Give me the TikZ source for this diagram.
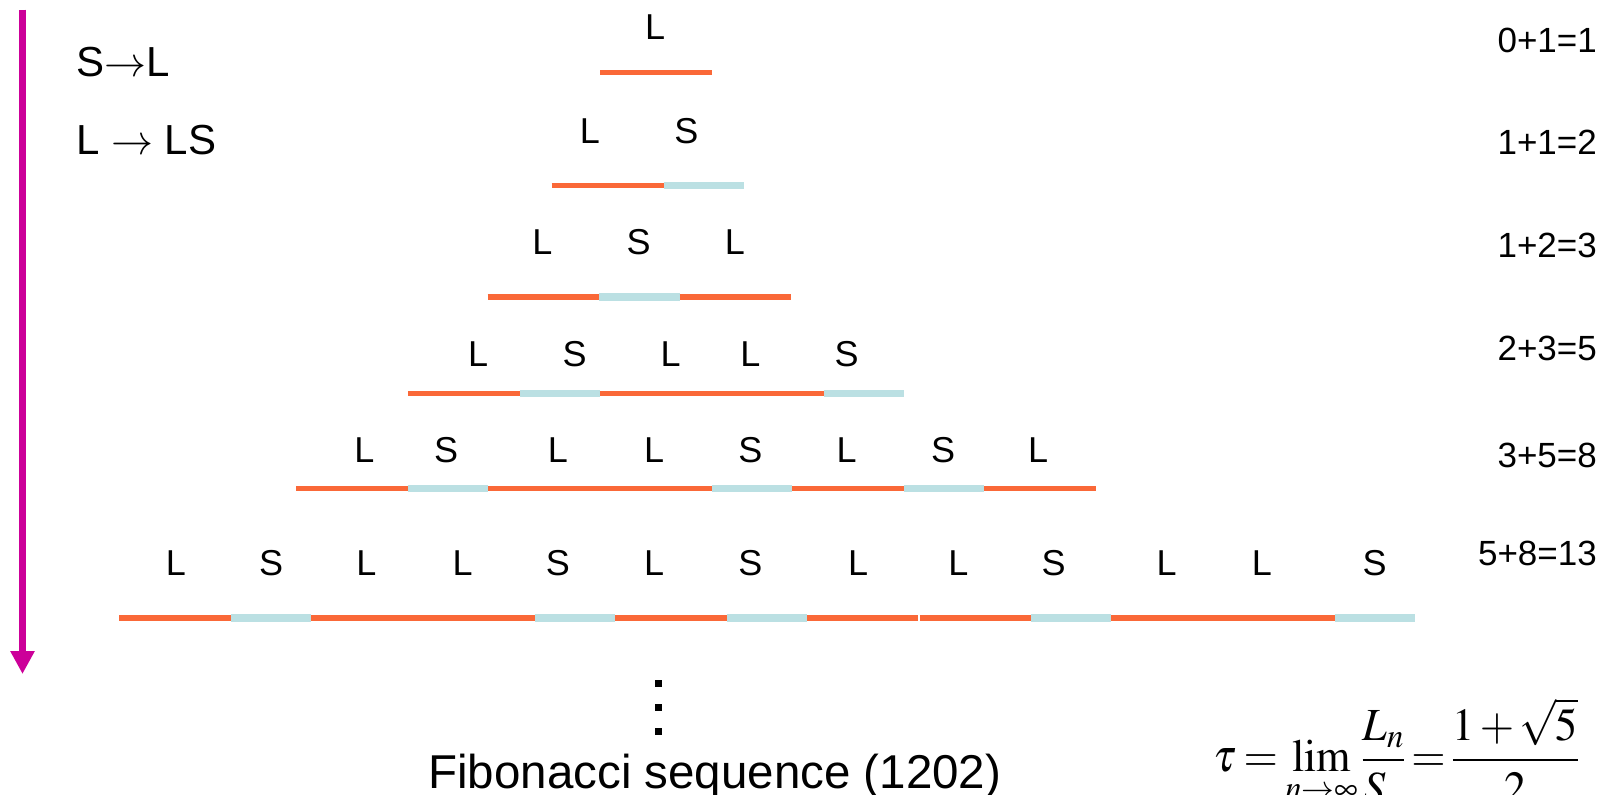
\documentclass[tikz,border=0pt]{standalone}
\usepackage{graphicx}
\usepackage{mathptmx}
\usepackage[no-math]{fontspec}
\setmainfont{Liberation Sans}
\usetikzlibrary{arrows.meta}
\definecolor{segL}{RGB}{250,104,56}
\definecolor{segS}{RGB}{187,224,227}
\definecolor{mag}{RGB}{204,0,153}
\newcommand\segrow[3]{%
  \foreach \t [remember=\nx as \cx (initially #1)] in {#3} {
    \pgfmathsetmacro\nx{\cx+\t*111.8+(1-\t)*80.3}
    \ifnum\t=1 \draw[Lseg] (\cx,#2) -- (\nx,#2); \else \draw[Sseg] (\cx,#2) -- (\nx,#2); \fi
  }}
\begin{document}
\begin{tikzpicture}[x=1pt,y=-1pt,
  Lseg/.style={draw=segL,line width=5.5pt},
  Sseg/.style={draw=segS,line width=7.5pt},
  lab/.style={font=\fontsize{36}{40}\selectfont,inner sep=0pt,anchor=base},
  num/.style={font=\fontsize{35}{40}\selectfont,inner sep=0pt,anchor=base east},
  rulex/.style={font=\fontsize{42}{46}\selectfont,inner sep=0pt,anchor=base west},
  dotbox/.style={fill=black,minimum size=7pt,inner sep=0pt}]
\useasboundingbox (0,0) rectangle (1623,795);

% magenta arrow
\coordinate (atop) at (22.5,9.5);
\coordinate (abot) at (22.5,674);
\draw[mag,line width=7.3pt,-{Triangle[length=23pt,width=23pt]}] (atop) -- (abot);

% rules
\node[rulex] (ruleA) at (76,76.7) {S$\rightarrow$L};
\node[rulex] (ruleB) at (76,154) {L $\rightarrow$ LS};

% segments
\segrow{600.4}{72.5}{1}
\segrow{551.7}{185.3}{1,0}
\segrow{487.5}{297.1}{1,0,1}
\segrow{407.8}{393.3}{1,0,1,1,0}
\segrow{296.0}{488.6}{1,0,1,1,0,1,0,1}
\segrow{119.0}{618.0}{1,0,1,1,0,1,0,1,1,0,1,1,0}
\draw[white,line width=2pt] (918.9,612) -- (918.9,624);

% labels
\node[lab] (ra1) at (655.2,39.9) {L};
\foreach \x/\s [count=\i] in {590.0/L,686.3/S}
  \node[lab] (rb\i) at (\x,143.4) {\s};
\foreach \x/\s [count=\i] in {542.4/L,638.7/S,734.9/L}
  \node[lab] (rc\i) at (\x,254.2) {\s};
\foreach \x/\s [count=\i] in {478.2/L,574.5/S,670.7/L,750.4/L,846.7/S}
  \node[lab] (rd\i) at (\x,366.0) {\s};
\foreach \x/\s [count=\i] in {364.4/L,446.1/S,557.9/L,654.2/L,750.4/S,846.7/L,943.0/S,1038.2/L}
  \node[lab] (re\i) at (\x,462.2) {\s};
\foreach \x/\s [count=\i] in {176.0/L,271.2/S,366.4/L,462.7/L,557.9/S,654.2/L,750.4/S,858.1/L,958.5/L,1053.7/S,1166.6/L,1261.8/L,1374.6/S}
  \node[lab] (rf\i) at (\x,575.1) {\s};

% numbers
\node[num] (n1) at (1597,52.3) {0+1=1};
\node[num] (n2) at (1597,154.0) {1+1=2};
\node[num] (n3) at (1597,257.5) {1+2=3};
\node[num] (n4) at (1597,360.0) {2+3=5};
\node[num] (n5) at (1597,467.5) {3+5=8};
\node[num] (n6) at (1597,565.0) {5+8=13};

% dots
\node[dotbox] (d1) at (658,683) {};
\node[dotbox] (d2) at (658,707) {};
\node[dotbox] (d3) at (658,731) {};

% caption
\node[font=\fontsize{47.5}{50}\selectfont,inner sep=0pt,anchor=base] (cap) at (714.8,788.7) {Fibonacci sequence (1202)};

% formula
\node[font=\fontsize{46}{54}\selectfont,inner sep=0pt,anchor=base west] (tau) at (1213,771.7)
  {\scalebox{0.96}[1]{\thickmuskip=3mu \medmuskip=2mu \thinmuskip=2mu \nulldelimiterspace=0pt
   $\displaystyle \tau = \lim_{n\to\infty}\frac{L_n}{S_n} = \frac{1+\sqrt{5}}{2}$}};
\end{tikzpicture}
\end{document}
